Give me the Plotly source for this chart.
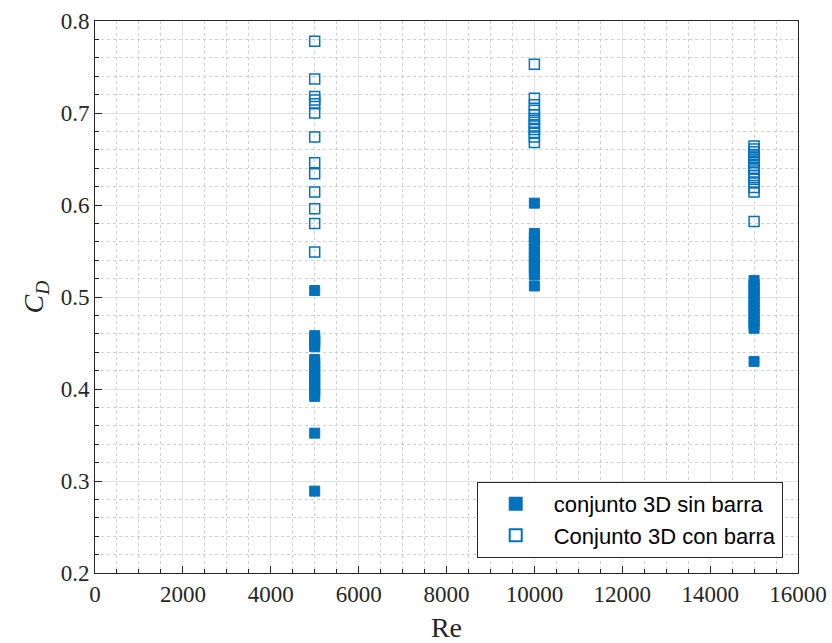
import plotly.graph_objects as go

# Data
re_values = [5000, 10000, 15000]

cd_sin_5000 = [0.507, 0.458, 0.455, 0.452, 0.449, 0.446, 0.432, 0.428, 0.424, 0.420,
               0.416, 0.412, 0.408, 0.404, 0.400, 0.396, 0.392, 0.352, 0.289]
cd_sin_10000 = [0.602, 0.569, 0.565, 0.560, 0.556, 0.552, 0.548, 0.544, 0.540, 0.536,
                0.532, 0.528, 0.524, 0.512]
cd_sin_15000 = [0.518, 0.514, 0.510, 0.506, 0.502, 0.498, 0.494, 0.490, 0.486, 0.482,
                0.478, 0.474, 0.470, 0.466, 0.430]

cd_con_5000 = [0.778, 0.737, 0.718, 0.714, 0.710, 0.700, 0.674, 0.646, 0.634, 0.614,
               0.596, 0.580, 0.549]
cd_con_10000 = [0.753, 0.716, 0.709, 0.703, 0.698, 0.694, 0.690, 0.686, 0.682, 0.678,
                0.674, 0.668]
cd_con_15000 = [0.664, 0.661, 0.658, 0.655, 0.652, 0.649, 0.646, 0.643, 0.640, 0.636,
                0.632, 0.628, 0.624, 0.619, 0.614, 0.582]

x_ticks = [0, 2000, 4000, 6000, 8000, 10000, 12000, 14000, 16000]
y_ticks = [0.2, 0.3, 0.4, 0.5, 0.6, 0.7, 0.8]

sin_groups = [cd_sin_5000, cd_sin_10000, cd_sin_15000]
con_groups = [cd_con_5000, cd_con_10000, cd_con_15000]

x_sin, y_sin, x_con, y_con = [], [], [], []
for re, g in zip(re_values, sin_groups):
    x_sin += [re] * len(g)
    y_sin += g
for re, g in zip(re_values, con_groups):
    x_con += [re] * len(g)
    y_con += g

blue = "#0072BD"
fig = go.Figure()
fig.add_trace(go.Scatter(
    x=x_sin, y=y_sin, mode="markers", name="conjunto 3D sin barra",
    marker=dict(symbol="square", size=10, color=blue, line=dict(width=1, color=blue)),
))
fig.add_trace(go.Scatter(
    x=x_con, y=y_con, mode="markers", name="Conjunto 3D con barra",
    marker=dict(symbol="square-open", size=10, color=blue, line=dict(width=1.5, color=blue)),
))

serif = "Liberation Serif, DejaVu Serif, serif"
axis_font = dict(family=serif, size=23, color="#262626")
common = dict(
    showline=True, linecolor="#262626", linewidth=1, mirror=True,
    ticks="inside", ticklen=7, tickcolor="#262626",
    showgrid=True, gridcolor="#e3e3e3", gridwidth=1,
    zeroline=False, tickfont=axis_font, automargin=False,
)
fig.update_xaxes(
    range=[0, 16000], tickvals=x_ticks, ticktext=[str(v) for v in x_ticks],
    title=dict(text="Re", font=dict(family=serif, size=28, color="#262626"), standoff=12),
    minor=dict(dtick=500, ticks="inside", ticklen=4, tickcolor="#262626",
               showgrid=True, gridcolor="#d0d0d0", griddash="dot", gridwidth=1),
    **common,
)
fig.update_yaxes(
    range=[0.2, 0.8], tickvals=y_ticks, ticktext=[f"{v:.1f}" for v in y_ticks],
    title=dict(text="<i>C</i><sub><i>D</i></sub>", font=dict(family=serif, size=28, color="#262626"), standoff=8),
    minor=dict(dtick=0.02, ticks="inside", ticklen=4, tickcolor="#262626",
               showgrid=True, gridcolor="#d0d0d0", griddash="dot", gridwidth=1),
    **common,
)
fig.update_layout(
    width=832, height=643,
    margin=dict(l=95, r=34, t=21, b=70),
    plot_bgcolor="white", paper_bgcolor="white",
    showlegend=True,
    legend=dict(
        x=0.543, y=0.165, xanchor="left", yanchor="top",
        bgcolor="white", bordercolor="#262626", borderwidth=1,
        font=dict(family="Liberation Sans, Arial, sans-serif", size=22, color="#000000"),
        itemsizing="constant", itemwidth=66,
    ),
)
fig.write_html("out.html")
